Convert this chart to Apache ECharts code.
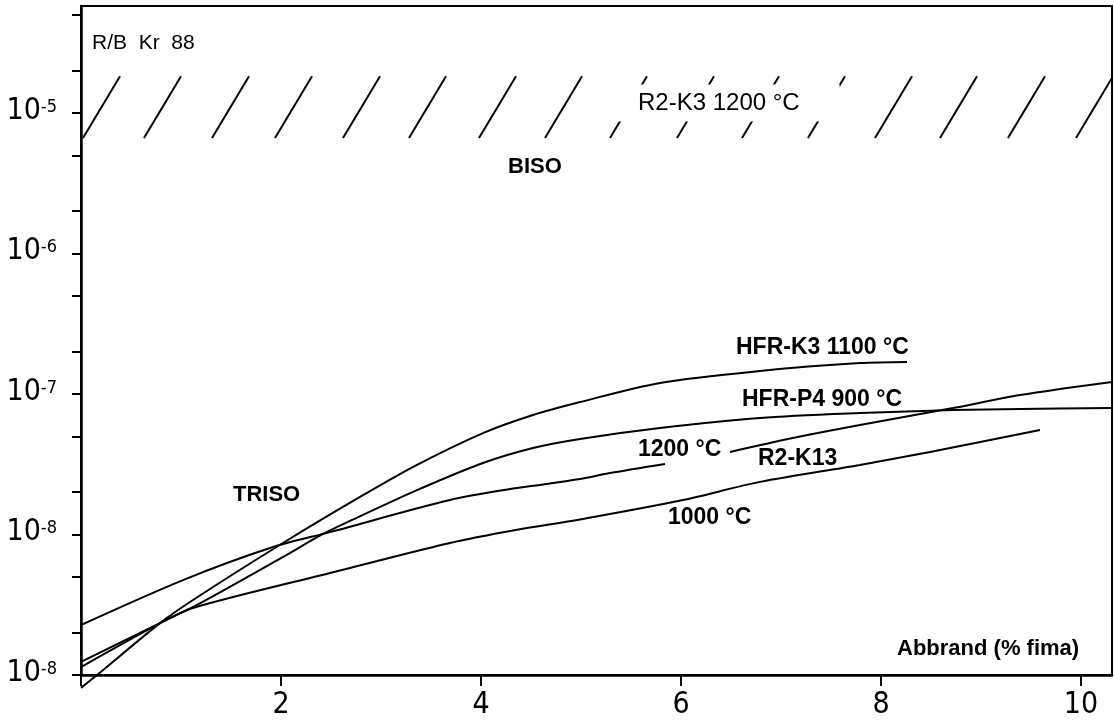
<!DOCTYPE html>
<html><head><meta charset="utf-8">
<script src="https://cdn.jsdelivr.net/npm/echarts@6.0.0/dist/echarts.min.js"></script>
<style>html,body{margin:0;padding:0;background:#fff}#c{width:1114px;height:722px}</style>
</head><body><div id="c"></div>
<script>
// ---- data (x: Abbrand % fima, y: R/B Kr 88) ----
const hfrK3_1100_x = [0, 0.16, 0.79, 1.12, 2.02, 2.79, 3.36, 4.02, 4.52, 4.99, 5.79, 6.79, 7.79, 8.26];
const hfrK3_1100_y = [8.1e-10, 1.0e-9, 2.34e-9, 3.42e-9, 8.7e-9, 1.85e-8, 3.13e-8, 5.27e-8, 7.09e-8, 8.77e-8, 1.20e-7, 1.46e-7, 1.66e-7, 1.69e-7];

const hfrP4_900_x = [0, 0.79, 1.16, 2.02, 2.42, 2.69, 3.36, 4.02, 4.52, 4.99, 5.79, 6.79, 7.79, 8.72, 9.39, 10.31];
const hfrP4_900_y = [1.14e-9, 2.34e-9, 3.15e-9, 6.92e-9, 1.01e-8, 1.25e-8, 2.07e-8, 3.23e-8, 4.13e-8, 4.79e-8, 5.73e-8, 6.75e-8, 7.32e-8, 7.69e-8, 7.82e-8, 7.94e-8];

const r2k13_1200_x = [0, 1.02, 1.89, 2.49, 3.69, 4.36, 4.99, 5.29, 5.84, 6.10, 6.49, 7.12, 7.79, 8.72, 9.39, 10.31];
const r2k13_1200_y = [2.27e-9, 4.74e-9, 8.02e-9, 1.04e-8, 1.76e-8, 2.14e-8, 2.48e-8, 2.74e-8, 3.18e-8, null, 3.87e-8, 4.86e-8, 6.01e-8, 7.94e-8, 9.84e-8, 1.22e-7];

const r2k13_1000_x = [0, 0.79, 1.12, 2.49, 2.69, 3.69, 4.36, 4.99, 6.02, 6.79, 7.79, 8.49, 9.59];
const r2k13_1000_y = [1.24e-9, 2.34e-9, 3.0e-9, 5.32e-9, 5.78e-9, 8.7e-9, 1.08e-8, 1.28e-8, 1.76e-8, 2.37e-8, 3.13e-8, 3.87e-8, 5.54e-8];

// BISO R2-K3 1200 °C band (hatched)
const bisoBand = [6.64e-6, 1.83e-5];
const hatchStarts = [0.02, 0.63, 1.31, 1.94, 2.62, 3.28, 3.98, 4.64, 5.29, 5.96, 6.61, 7.27, 7.94, 8.59, 9.27, 9.95];
const hatchSpan = 0.37;

// axes
const xTickValues = [0, 2, 4, 6, 8, 10];
const xLabelValues = [2, 4, 6, 8, 10];
const yLabelValues = [1e-9, 1e-8, 1e-7, 1e-6, 1e-5];
const yLabelExponents = ['-8', '-8', '-7', '-6', '-5'];
const yMinorTicks = [2e-9, 5e-9, 2e-8, 5e-8, 2e-7, 5e-7, 2e-6, 5e-6, 2e-5, 5e-5];

const zip = (xs, ys) => xs.map((x, i) => [x, ys[i] === null ? '-' : ys[i]]);

const NARROW = "'Liberation Sans Narrow', 'DejaVu Sans Condensed', sans-serif";
const SANS = "'Liberation Sans', Arial, sans-serif";

const chart = echarts.init(document.getElementById('c'), null, {renderer: 'canvas'});

const lineStyle = {color: '#000', width: 2};
function curve(name, data, extra) {
  return Object.assign({
    name, type: 'line', data, showSymbol: false, symbol: 'none',
    smooth: 0.3, connectNulls: false, lineStyle, z: 3
  }, extra || {});
}

function label(text, x, y, opt) {
  return {
    type: 'text', x, y, z: 100,
    style: Object.assign({
      text, fill: '#000', font: 'bold 23px ' + SANS,
      align: 'left', verticalAlign: 'middle'
    }, (opt && opt.style) || {})
  };
}

chart.setOption({
  animation: false,
  backgroundColor: '#fff',
  grid: {left: 81, right: 2, top: 6, bottom: 47, show: true, borderColor: '#000', borderWidth: 2, backgroundColor: 'transparent'},
  xAxis: {
    type: 'value', min: 0, max: 10.31,
    axisLine: {show: true, onZero: false, lineStyle: {color: '#000', width: 2.5}},
    axisTick: {show: true, length: 11, lineStyle: {color: '#000', width: 2}, customValues: xTickValues},
    axisLabel: {customValues: xLabelValues, color: '#000', fontSize: 30, fontFamily: NARROW, margin: 15},
    splitLine: {show: false}
  },
  yAxis: {
    type: 'log', logBase: 10, min: 1e-9, max: 5.78e-5,
    axisLine: {show: true, lineStyle: {color: '#000', width: 2.5}},
    axisTick: {show: true, length: 9, lineStyle: {color: '#000', width: 2}, customValues: yLabelValues.concat(yMinorTicks)},
    axisLabel: {
      customValues: yLabelValues, margin: 24, color: '#000',
      formatter: v => {
        const e = Math.round(Math.log10(v));
        const i = yLabelValues.findIndex(t => Math.round(Math.log10(t)) === e);
        return '{b|10}{s|' + (i >= 0 ? yLabelExponents[i] : String(e)) + '}';
      },
      rich: {
        b: {fontSize: 30, fontFamily: NARROW, color: '#000', lineHeight: 30, padding: [0, 0, 4, 0]},
        s: {fontSize: 18, fontFamily: NARROW, color: '#000', verticalAlign: 'top', lineHeight: 18}
      }
    },
    splitLine: {show: false},
    minorTick: {show: false}
  },
  series: [
    {
      name: 'R2-K3 1200 °C (BISO)', type: 'custom', clip: true, z: 2,
      data: hatchStarts.map(s => [s, s + hatchSpan, bisoBand[0], bisoBand[1]]),
      encode: {x: [0, 1], y: [2, 3]},
      renderItem: (params, api) => {
        const p1 = api.coord([api.value(0), api.value(2)]);
        const p2 = api.coord([api.value(1), api.value(3)]);
        return {type: 'line', shape: {x1: p1[0], y1: p1[1], x2: p2[0], y2: p2[1]}, style: {stroke: '#000', lineWidth: 2}};
      }
    },
    curve('HFR-K3 1100 °C', zip(hfrK3_1100_x, hfrK3_1100_y), {clip: false}),
    curve('HFR-P4 900 °C', zip(hfrP4_900_x, hfrP4_900_y)),
    curve('R2-K13 1200 °C', zip(r2k13_1200_x, r2k13_1200_y)),
    curve('R2-K13 1000 °C', zip(r2k13_1000_x, r2k13_1000_y))
  ],
  graphic: [
    label('R/B  Kr  88', 92, 43, {style: {font: '21px ' + SANS}}),
    label('R2-K3 1200 °C', 616, 103, {style: {font: '24px ' + SANS, backgroundColor: '#fff', padding: [7, 40, 6, 22]}}),
    label('BISO', 508, 167, {style: {font: 'bold 22px ' + SANS}}),
    label('TRISO', 233, 495, {style: {font: 'bold 22px ' + SANS}}),
    label('HFR-K3 1100 °C', 736, 348),
    label('HFR-P4 900 °C', 742, 400),
    label('1200 °C', 638, 450),
    label('R2-K13', 758, 459),
    label('1000 °C', 668, 518),
    label('Abbrand (% fima)', 897, 649, {style: {font: 'bold 22px ' + SANS}})
  ]
});
</script></body></html>
